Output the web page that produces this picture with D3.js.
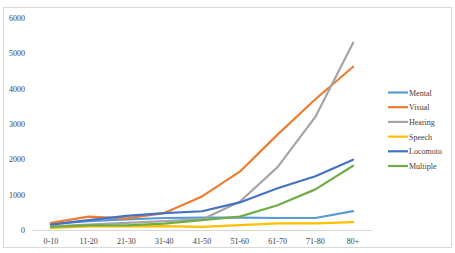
<!DOCTYPE html>
<html>
<head>
<meta charset="utf-8">
<script src="https://cdn.jsdelivr.net/npm/d3@7"></script>
<style>
  body { margin: 0; background: #fff; }
  text { font-family: "Liberation Serif", "Times New Roman", serif; fill: #404040; }
</style>
</head>
<body>
<div id="chart"></div>
<script>
var categories = ['0-10', '11-20', '21-30', '31-40', '41-50', '51-60', '61-70', '71-80', '80+']
var seriesNames = ['Mental', 'Visual', 'Hearing', 'Speech', 'Locomoto', 'Multiple']
var mental = [170, 250, 300, 340, 350, 350, 340, 340, 535]
var visual = [200, 380, 330, 480, 950, 1650, 2700, 3700, 4620]
var hearing = [100, 150, 200, 250, 300, 800, 1780, 3200, 5300]
var speech = [60, 100, 100, 110, 90, 140, 190, 190, 225]
var locomoto = [150, 280, 400, 480, 530, 780, 1180, 1520, 1990]
var multiple = [90, 130, 130, 180, 280, 380, 700, 1150, 1820]
var yTicks = [0, 1000, 2000, 3000, 4000, 5000, 6000]
var colors = ['#5B9BD5', '#ED7D31', '#A5A5A5', '#FFC000', '#4472C4', '#70AD47']

var allSeries = [mental, visual, hearing, speech, locomoto, multiple]

var width = 455, height = 253
var margin = { top: 18, bottom: 23, left: 32, right: 83 }

var svg = d3.select('#chart').append('svg')
    .attr('width', width)
    .attr('height', height)

// outer frame
svg.append('rect')
    .attr('x', 3.5).attr('y', 7.5)
    .attr('width', 448).attr('height', 240)
    .attr('fill', 'none')
    .attr('stroke', '#d9d9d9')

var x = d3.scaleBand()
    .domain(categories)
    .range([margin.left, width - margin.right])

var y = d3.scaleLinear()
    .domain([0, 6000])
    .range([height - margin.bottom, margin.top])

// y labels
svg.append('g')
    .selectAll('text')
    .data(yTicks)
    .join('text')
    .attr('x', 25)
    .attr('y', d => y(d) + 3)
    .attr('text-anchor', 'end')
    .attr('font-size', '8px')
    .text(d => d)

// x axis line
svg.append('line')
    .attr('x1', margin.left).attr('x2', width - margin.right)
    .attr('y1', y(0) + 0.5).attr('y2', y(0) + 0.5)
    .attr('stroke', '#d9d9d9')

svg.append('g')
    .selectAll('text')
    .data(categories)
    .join('text')
    .attr('x', d => x(d) + x.bandwidth() / 2)
    .attr('y', y(0) + 14)
    .attr('text-anchor', 'middle')
    .attr('font-size', '8px')
    .text(d => d)

var line = d3.line()
    .x((d, i) => x(categories[i]) + x.bandwidth() / 2)
    .y(d => y(d))

svg.append('g')
    .selectAll('path')
    .data(allSeries)
    .join('path')
    .attr('d', d => line(d))
    .attr('fill', 'none')
    .attr('stroke', (d, i) => colors[i])
    .attr('stroke-width', 2.2)
    .attr('stroke-linejoin', 'round')
    .attr('stroke-linecap', 'round')

// legend
var legend = svg.append('g')
for (let i = 0; i < seriesNames.length; i++) {
    legend.append('line')
        .attr('x1', 388).attr('x2', 408)
        .attr('y1', 92.5 + i * 14.7).attr('y2', 92.5 + i * 14.7)
        .attr('stroke', colors[i])
        .attr('stroke-width', 2.2)
    legend.append('text')
        .attr('x', 409)
        .attr('y', 95.5 + i * 14.7)
        .attr('font-size', '8px')
        .text(seriesNames[i])
}
</script>
</body>
</html>
